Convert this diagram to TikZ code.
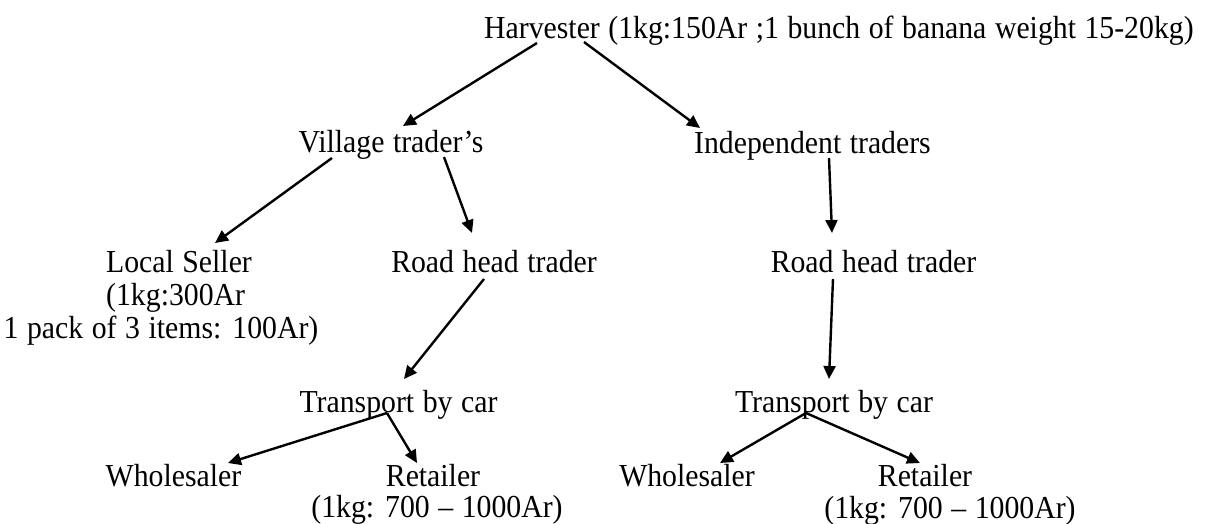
\documentclass[tikz,border=0pt]{standalone}
\usepackage{fontspec}
\setmainfont[FakeStretch=0.93,WordSpace=1.15]{Liberation Serif}
\usetikzlibrary{calc,arrows.meta}
\tikzset{
  lbl/.style={inner sep=0pt, anchor=base, font=\fontsize{32}{38}\selectfont},
  arr/.style={line width=2.4pt, -{Triangle[length=13pt,width=12pt]}}
}
\begin{document}
\begin{tikzpicture}[x=1pt,y=-1pt]
\useasboundingbox (0,0) rectangle (1205,523);

% chain labels
\node[lbl, anchor=base west] (harv) at (484,38) {Harvester (1kg:150Ar ;1 bunch of banana weight 15-20kg)};
\node[lbl] (vil) at (391,152) {Village trader’s};
\node[lbl] (ind) at (812.5,153) {Independent traders};
\node[lbl] (local) at (179,272) {Local Seller};
\node[lbl, anchor=base west] (localp) at (106,305) {(1kg:300Ar};
\node[lbl] (localq) at (161,338) {1 pack of 3 items: 100Ar)};
\node[lbl] (rhl) at (494,272) {Road head trader};
\node[lbl] (rhr) at (873.5,272) {Road head trader};
\node[lbl] (tl) at (398.5,412) {Transport by car};
\node[lbl] (tr) at (834,412) {Transport by car};
\node[lbl] (wl) at (173.5,486) {Wholesaler};
\node[lbl] (rl) at (433,486) {Retailer};
\node[lbl] (pl) at (437,517) {(1kg: 700 – 1000Ar)};
\node[lbl] (wr) at (687,486) {Wholesaler};
\node[lbl] (rr) at (925,486) {Retailer};
\node[lbl] (pr) at (950,518) {(1kg: 700 – 1000Ar)};

% connectors
\draw[arr] ($(harv.base west)+(53,5)$) -- ($(vil.base)+(12,-26)$);
\draw[arr] ($(harv.base west)+(100,4)$) -- ($(ind.base)+(-112.5,-25)$);
\draw[arr] ($(vil.base)+(-59,6)$) -- ($(local.base)+(36,-29)$);
\draw[arr] ($(vil.base)+(53,5)$) -- ($(rhl.base)+(-22,-39)$);
\draw[arr] ($(ind.base)+(16.5,5)$) -- ($(rhr.base)+(-41.5,-39)$);
\draw[arr] ($(rhl.base)+(-10,7)$) -- ($(tl.base)+(5.5,-33)$);
\draw[arr] ($(rhr.base)+(-40.5,7)$) -- ($(tr.base)+(-5,-33)$);
\draw[arr] ($(tl.base)+(-11.5,1)$) -- ($(wl.base)+(54.5,-23)$);
\draw[arr] ($(tl.base)+(-11.5,1)$) -- ($(rl.base)+(-16,-23)$);
\draw[arr] ($(tr.base)+(-28,1)$) -- ($(wr.base)+(33,-23)$);
\draw[arr] ($(tr.base)+(-28,1)$) -- ($(rr.base)+(-5,-23)$);
\end{tikzpicture}
\end{document}
